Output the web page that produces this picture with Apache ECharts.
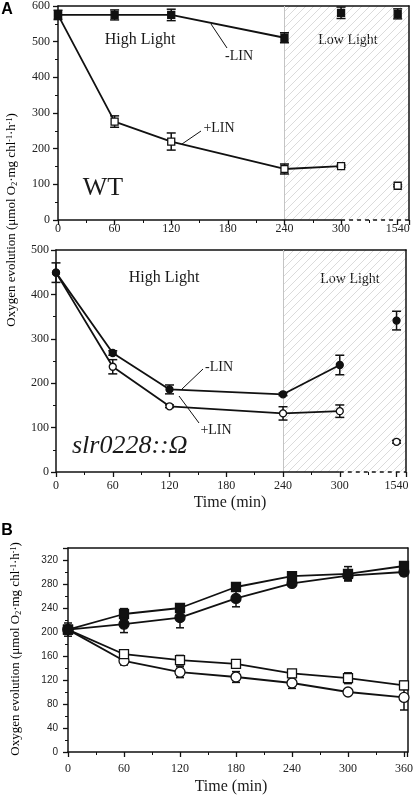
<!DOCTYPE html>
<html><head><meta charset="utf-8">
<script src="https://cdn.jsdelivr.net/npm/echarts@6/dist/echarts.min.js"></script>
<style>html,body{margin:0;padding:0;background:#fff}#c{width:416px;height:797px}</style>
</head><body><div id="c"></div>
<script>
// ---------- data ----------
const tickLabelsA = ['0','60','120','180','240','300','1540'];   // broken axis: 1540 sits at the 7th slot
const timesA = [0,60,120,240,300,1540];
const wtMinusLIN  = [575,575,575,511,581,578];
const wtMinusErr  = [13,14,16,14,16,14];
const wtPlusLIN   = [575,276,220,143,151,96];
const wtPlusErr   = [0,16,24,14,3,3];
const slrMinusLIN = [449,268,186,175,241,341];
const slrMinusErr = [22,5,10,3,22,21];
const slrPlusLIN  = [449,237,148,132,137,68];
const slrPlusErr  = [0,16,3,15,14,3];
const joinedWtMinus = 4, joinedWtPlus = 5, joinedSlrMinus = 5, joinedSlrPlus = 5;

const timesB = [0,60,120,180,240,300,360];
const bFilledSquare = [204,230,240,275,293,297,310];
const bFilledSquareErr = [11,9,4,4,5,12,6];
const bFilledCircle = [204,213,224,256,281,294,300];
const bFilledCircleErr = [0,14,17,14,4,8,6];
const bOpenSquare = [204,163,153,147,131,123,111];
const bOpenSquareErr = [0,4,8,4,6,9,7];
const bOpenCircle = [204,152,133,125,115,100,91];
const bOpenCircleErr = [0,7,9,9,9,4,21];

const lowLightStart = 240, axisBreakAt = 300;

// ---------- helpers ----------
const SERIF = "'Liberation Serif','Times New Roman',serif";
const SANS = "'Liberation Sans',Arial,sans-serif";
const BLACK = '#111';
const posA = t => tickLabelsA.indexOf(String(t)) * 60;

function errSeries(xi, yi, xs, vals, errs, cap, lw) {
  return {
    type: 'custom', xAxisIndex: xi, yAxisIndex: yi, z: 2, silent: true, animation: false,
    encode: {x: 0, y: 1},
    data: xs.map((x, i) => [x, vals[i], errs[i]]),
    renderItem: function (params, api) {
      const x = api.value(0), y = api.value(1), e = api.value(2);
      if (!e) return null;
      const t = api.coord([x, y + e]), b = api.coord([x, y - e]);
      const st = {stroke: BLACK, lineWidth: lw};
      return {type: 'group', children: [
        {type: 'line', shape: {x1: t[0], y1: t[1], x2: b[0], y2: b[1]}, style: st},
        {type: 'line', shape: {x1: t[0]-cap, y1: t[1], x2: t[0]+cap, y2: t[1]}, style: st},
        {type: 'line', shape: {x1: b[0]-cap, y1: b[1], x2: b[0]+cap, y2: b[1]}, style: st}
      ]};
    }
  };
}
function groupSeries(xi, yi, xs, vals, errs, joined, symbol, filled, size, cap, z) {
  const pts = xs.map((x, i) => [x, vals[i]]);
  const item = {color: filled ? BLACK : '#fff', borderColor: BLACK, borderWidth: 1.3, opacity: 1};
  const out = [errSeries(xi, yi, xs, vals, errs, cap, 1.5)];
  out.push({type: 'line', xAxisIndex: xi, yAxisIndex: yi, z: z, animation: false, silent: true,
    data: pts.slice(0, joined), symbol: symbol, symbolSize: size, showSymbol: true,
    itemStyle: item, lineStyle: {color: BLACK, width: 1.8}});
  if (joined < pts.length) {
    out.push({type: 'scatter', xAxisIndex: xi, yAxisIndex: yi, z: z, animation: false, silent: true,
      data: pts.slice(joined), symbol: symbol, symbolSize: size, itemStyle: item});
  }
  return out;
}

// hatch pattern
const pc = document.createElement('canvas');
pc.width = 8; pc.height = 8;
const g = pc.getContext('2d');
g.strokeStyle = '#d2d2d2'; g.lineWidth = 0.8;
g.beginPath(); g.moveTo(0, 8); g.lineTo(8, 0); g.moveTo(-2, 2); g.lineTo(2, -2); g.moveTo(6, 10); g.lineTo(10, 6); g.stroke();

function decoSeries(xi, yi, xmax) {
  return {type: 'line', xAxisIndex: xi, yAxisIndex: yi, data: [], z: 1, silent: true, animation: false,
    markArea: {silent: true, z: 0, itemStyle: {color: {image: pc, repeat: 'repeat'}},
      data: [[{xAxis: lowLightStart}, {xAxis: xmax}]]},
    markLine: {silent: true, z: 1, symbol: 'none', animation: false, label: {show: false},
      data: [
        {xAxis: lowLightStart, lineStyle: {color: '#c4c4c4', width: 1, type: 'solid'}},
        [{coord: [0, 0], lineStyle: {color: BLACK, width: 1.5, type: 'solid'}}, {coord: [axisBreakAt, 0]}],
        [{coord: [axisBreakAt, 0], lineStyle: {color: BLACK, width: 1.5, type: [4, 4]}}, {coord: [xmax, 0]}]
      ]}
  };
}

function xBottom(gi, max, labels, margin, fs, showLine) {
  return {gridIndex: gi, type: 'value', position: 'bottom', min: 0, max: max, interval: 60,
    axisLine: {show: showLine, onZero: false, lineStyle: {color: BLACK, width: 1.5}},
    axisTick: {show: true, length: 5, lineStyle: {color: BLACK, width: 1.3}},
    minorTick: {show: true, splitNumber: 2, length: 3, lineStyle: {color: BLACK, width: 1}},
    splitLine: {show: false},
    axisLabel: {margin: margin, fontFamily: SERIF, fontSize: fs, color: '#222',
      formatter: v => (v % 60 === 0 && v / 60 < labels.length) ? labels[v / 60] : ''}};
}
function xTop(gi, max) {
  return {gridIndex: gi, type: 'value', position: 'top', min: 0, max: max,
    axisLine: {show: true, onZero: false, lineStyle: {color: BLACK, width: 1.5}},
    axisTick: {show: false}, axisLabel: {show: false}, splitLine: {show: false}};
}
function yLeft(gi, max, interval, margin, font, fs) {
  return {gridIndex: gi, type: 'value', position: 'left', min: 0, max: max, interval: interval,
    axisLine: {show: true, onZero: false, lineStyle: {color: BLACK, width: 1.5}},
    axisTick: {show: true, length: 5, lineStyle: {color: BLACK, width: 1.3}},
    minorTick: {show: true, splitNumber: 2, length: 3, lineStyle: {color: BLACK, width: 1}},
    splitLine: {show: false},
    axisLabel: {margin: margin, fontFamily: font, fontSize: fs, color: '#222',
      formatter: v => v % interval === 0 ? String(v) : ''}};
}
function yRight(gi, max) {
  return {gridIndex: gi, type: 'value', position: 'right', min: 0, max: max,
    axisLine: {show: true, onZero: false, lineStyle: {color: BLACK, width: 1.5}},
    axisTick: {show: false}, axisLabel: {show: false}, splitLine: {show: false}};
}

const tickLabelsB = timesB.map(String);
const xA = timesA.map(posA);

const yName = {
  base: {fontFamily: SERIF, fontSize: 13, color: '#222'},
  sub: {fontFamily: SERIF, fontSize: 8, color: '#222', verticalAlign: 'bottom'},
  sup: {fontFamily: SERIF, fontSize: 8, color: '#222', verticalAlign: 'top'}
};
const yNameText = '{base|Oxygen evolution (μmol O}{sub|2}{base|·mg chl}{sup|-1}{base|·h}{sup|-1}{base|)}';

function txt(x, y, s, fs, opts) {
  return Object.assign({type: 'text', x: x, y: y, silent: true,
    style: Object.assign({text: s, fontFamily: SERIF, fontSize: fs, fill: '#1a1a1a', align: 'center', verticalAlign: 'middle'}, opts || {})});
}
function seg(x1, y1, x2, y2) {
  return {type: 'line', silent: true, shape: {x1, y1, x2, y2}, style: {stroke: BLACK, lineWidth: 1}};
}

const option = {
  backgroundColor: '#fff',
  animation: false,
  grid: [
    {left: 58, right: 7, top: 6, height: 214},
    {left: 56, right: 10, top: 250, height: 222},
    {left: 68, right: 4, top: 548, height: 204}
  ],
  xAxis: [
    xBottom(0, 372, tickLabelsA, 3, 12, false), xTop(0, 372),
    xBottom(1, 370, tickLabelsA, 8, 12, false), xTop(1, 370),
    xBottom(2, 364, tickLabelsB, 11, 12, true), xTop(2, 364)
  ],
  yAxis: [
    yLeft(0, 600, 100, 8, SERIF, 12), yRight(0, 600),
    yLeft(1, 500, 100, 7, SERIF, 12), yRight(1, 500),
    yLeft(2, 340, 40, 10, "'Liberation Sans Narrow','Liberation Sans',Arial,sans-serif", 10), yRight(2, 340)
  ],
  series: [
    decoSeries(0, 0, 372),
    decoSeries(2, 2, 370),
    ...groupSeries(0, 0, xA, wtPlusLIN, wtPlusErr, joinedWtPlus, 'rect', false, 7, 4.5, 3),
    ...groupSeries(0, 0, xA, wtMinusLIN, wtMinusErr, joinedWtMinus, 'rect', true, 7, 4.5, 4),
    ...groupSeries(2, 2, xA, slrPlusLIN, slrPlusErr, joinedSlrPlus, 'circle', false, 7, 4.5, 3),
    ...groupSeries(2, 2, xA, slrMinusLIN, slrMinusErr, joinedSlrMinus, 'circle', true, 7, 4.5, 4),
    ...groupSeries(4, 4, timesB, bOpenCircle, bOpenCircleErr, timesB.length, 'circle', false, 10, 4, 3),
    ...groupSeries(4, 4, timesB, bOpenSquare, bOpenSquareErr, timesB.length, 'rect', false, 9, 4, 3),
    ...groupSeries(4, 4, timesB, bFilledCircle, bFilledCircleErr, timesB.length, 'circle', true, 10, 4, 4),
    ...groupSeries(4, 4, timesB, bFilledSquare, bFilledSquareErr, timesB.length, 'rect', true, 9, 4, 5)
  ],
  graphic: [
    txt(7, 10, 'A', 16, {fontFamily: SANS, fontWeight: 'bold', fill: '#000'}),
    txt(7, 531, 'B', 16, {fontFamily: SANS, fontWeight: 'bold', fill: '#000'}),
    // panel A annotations
    txt(140, 40, 'High Light', 16),
    txt(348, 40, 'Low Light', 14),
    txt(239, 56, '-LIN', 14),
    seg(211, 24, 227, 48),
    txt(219, 128, '+LIN', 14),
    seg(182, 144, 201, 131),
    txt(103, 188, 'WT', 26),
    // slr panel annotations
    txt(164, 278, 'High Light', 16),
    txt(350, 279, 'Low Light', 14),
    txt(219, 367, '-LIN', 14),
    seg(182, 389, 203, 369),
    txt(216, 430, '+LIN', 14),
    seg(179, 396, 199, 423),
    txt(72, 446, 'slr0228::Ω', 26, {align: 'left', fontStyle: 'italic'}),
    txt(230, 503, 'Time (min)', 16),
    txt(231, 787, 'Time (min)', 16),
    {type: 'text', x: 12, y: 220, rotation: Math.PI / 2, silent: true,
      style: {text: yNameText, rich: yName, align: 'center', verticalAlign: 'middle'}},
    {type: 'text', x: 16, y: 649, rotation: Math.PI / 2, silent: true,
      style: {text: yNameText, rich: yName, align: 'center', verticalAlign: 'middle'}}
  ]
};

const chart = echarts.init(document.getElementById('c'), null, {renderer: 'canvas'});
chart.setOption(option);
</script>
</body></html>
